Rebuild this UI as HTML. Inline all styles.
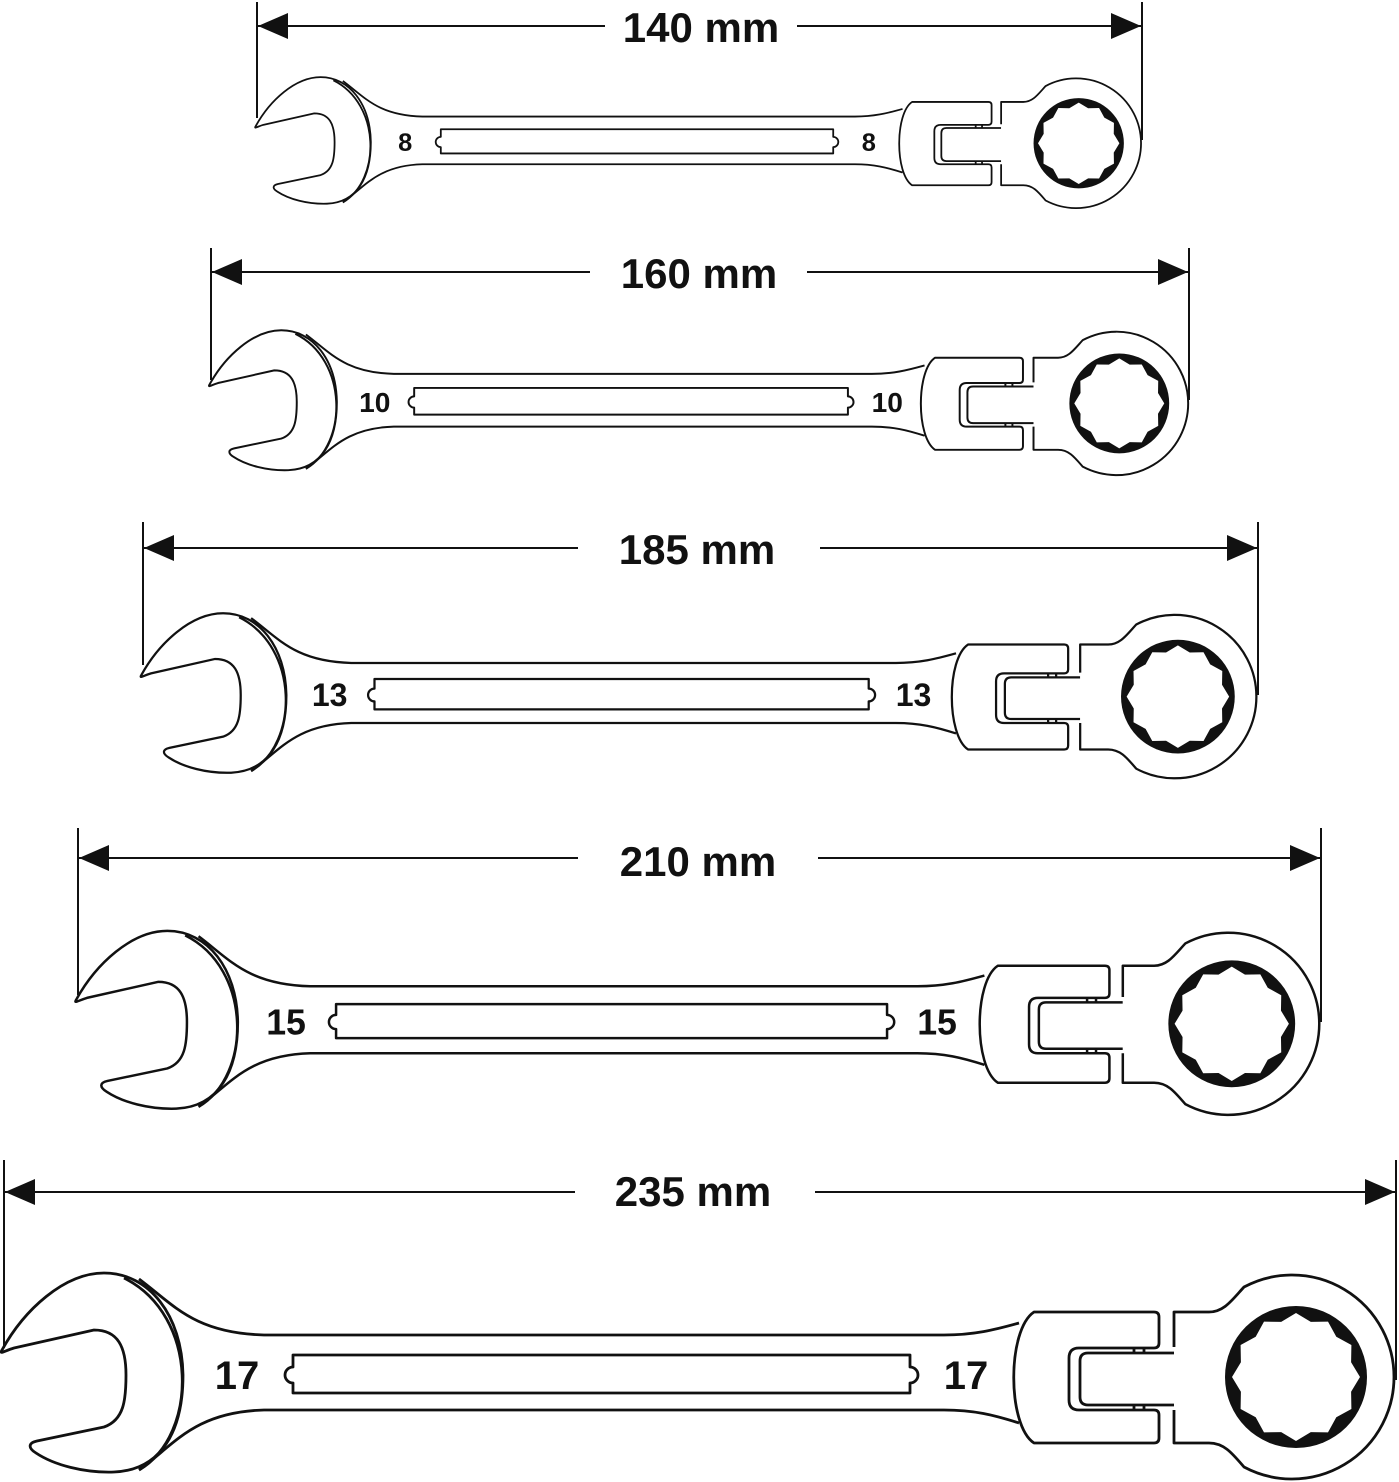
<!DOCTYPE html>
<html><head><meta charset="utf-8"><style>
html,body{margin:0;padding:0;background:#fff}
svg{display:block}
.w path,.w circle,.w line{vector-effect:non-scaling-stroke}
</style></head><body>
<svg width="1399" height="1482" viewBox="0 0 1399 1482" xmlns="http://www.w3.org/2000/svg">
<defs>
<g id="wr" fill="none" stroke="#111" stroke-width="2.8" stroke-linejoin="round">
  <!-- open end head -->
  <path fill="#fff" d="M -2,-25 C 20,-65 60,-102 100,-102 C 145,-102 178,-60 179,0 C 179,55 158,95 110,97 C 80,98 50,90 32,78 C 24,73 24,68 33,66 L 100,52 C 120,45 122,25 122,0 C 122,-28 114,-45 90,-45 L 10,-27 C 0,-24 -5,-20 -2,-25 Z"/>
  <path d="M 120,-97 C 195,-60 195,60 135,95"/>
  <!-- handle -->
  <path d="M 135,-96 C 170,-70 190,-42 260,-40 L 940,-40 C 970,-40 990,-45 1015,-52"/>
  <path d="M 135,95 C 170,70 190,37 260,35 L 940,35 C 970,35 990,40 1015,48"/>
  <!-- slot -->
  <path d="M 289,-20 L 906,-20 L 906,-8 A 8,8 0 0 1 906,8 L 906,18 L 289,18 L 289,8 A 8,8 0 0 1 289,-8 Z"/>
  <!-- flex block -->
  <path fill="#fff" d="M 1030,-63 L 1150,-63 Q 1155,-63 1155,-58 L 1155,-32 Q 1155,-27 1150,-27 L 1075,-27 Q 1065,-27 1065,-17 L 1065,25 Q 1065,35 1075,35 L 1150,35 Q 1155,35 1155,40 L 1155,63 Q 1155,68 1150,68 L 1030,68 C 1003,50 1003,-45 1030,-63 Z"/>
  <path d="M 1170,-22 L 1084,-22 Q 1076,-22 1076,-14 L 1076,22 Q 1076,30 1084,30 L 1170,30"/>
  <path d="M 1130,-22 v-5 M 1140,-22 v-5 M 1130,30 v5 M 1140,30 v5"/>
  <!-- ring -->
  <path fill="#fff" d="M 1170,-28 L 1170,-63 L 1205,-63 C 1220,-63 1228,-75 1240,-88 A 102,102 0 1 1 1240,92 C 1228,78 1220,68 1205,68 L 1170,68 L 1170,35"/>
  <circle cx="1292" cy="2" r="71" fill="#111" stroke="none"/>
  <polygon fill="#fff" stroke="none" transform="translate(1292,2)" points="64,0 55.1,14.8 55.4,32 40.3,40.3 32,55.4 14.8,55.1 0,64 -14.8,55.1 -32,55.4 -40.3,40.3 -55.4,32 -55.1,14.8 -64,0 -55.1,-14.8 -55.4,-32 -40.3,-40.3 -32,-55.4 -14.8,-55.1 0,-64 14.8,-55.1 32,-55.4 40.3,-40.3 55.4,-32 55.1,-14.8"/>
</g>
<g id="arrL"><polygon points="0,0 30,-13 30,13" fill="#111"/></g>
</defs>
<g font-family="Liberation Sans, sans-serif" font-weight="bold" fill="#111">
<!-- 140 -->
<g class="w" transform="translate(257,142) scale(0.636)"><use href="#wr"/>
<text x="233" y="14" font-size="40" text-anchor="middle">8</text><text x="962" y="14" font-size="40" text-anchor="middle">8</text></g>
<!-- 160 -->
<g class="w" transform="translate(211,402) scale(0.703)"><use href="#wr"/>
<text x="233" y="14" font-size="40" text-anchor="middle">10</text><text x="962" y="14" font-size="40" text-anchor="middle">10</text></g>
<!-- 185 -->
<g class="w" transform="translate(143,695) scale(0.801)"><use href="#wr"/>
<text x="233" y="14" font-size="40" text-anchor="middle">13</text><text x="962" y="14" font-size="40" text-anchor="middle">13</text></g>
<!-- 210 -->
<g class="w" transform="translate(78,1022) scale(0.893)"><use href="#wr"/>
<text x="233" y="14" font-size="40" text-anchor="middle">15</text><text x="962" y="14" font-size="40" text-anchor="middle">15</text></g>
<!-- 235 -->
<g class="w" transform="translate(4,1375) scale(1)"><use href="#wr"/>
<text x="233" y="14" font-size="40" text-anchor="middle">17</text><text x="962" y="14" font-size="40" text-anchor="middle">17</text></g>
</g>
<!-- dimension lines -->
<g stroke="#111" stroke-width="2" fill="none">
<path d="M257,2 V118 M1142,2 V140 M257,26 H605 M797,26 H1142"/>
<path d="M211,248 V380 M1189,248 V400 M211,272 H590 M807,272 H1189"/>
<path d="M143,522 V665 M1258,522 V695 M143,548 H578 M820,548 H1258"/>
<path d="M78,828 V995 M1321,828 V1022 M78,858 H578 M818,858 H1321"/>
<path d="M4,1160 V1348 M1396,1160 V1380 M4,1192 H575 M815,1192 H1396"/>
</g>
<g fill="#111">
<use href="#arrL" transform="translate(258,26)"/><use href="#arrL" transform="translate(1141,26) scale(-1,1)"/>
<use href="#arrL" transform="translate(212,272)"/><use href="#arrL" transform="translate(1188,272) scale(-1,1)"/>
<use href="#arrL" transform="translate(144,548)"/><use href="#arrL" transform="translate(1257,548) scale(-1,1)"/>
<use href="#arrL" transform="translate(79,858)"/><use href="#arrL" transform="translate(1320,858) scale(-1,1)"/>
<use href="#arrL" transform="translate(5,1192)"/><use href="#arrL" transform="translate(1395,1192) scale(-1,1)"/>
</g>
<g font-family="Liberation Sans, sans-serif" font-weight="bold" font-size="42" fill="#111" text-anchor="middle">
<text x="701" y="42">140 mm</text>
<text x="699" y="288">160 mm</text>
<text x="697" y="564">185 mm</text>
<text x="698" y="876">210 mm</text>
<text x="693" y="1206">235 mm</text>
</g>
</svg>
</body></html>
